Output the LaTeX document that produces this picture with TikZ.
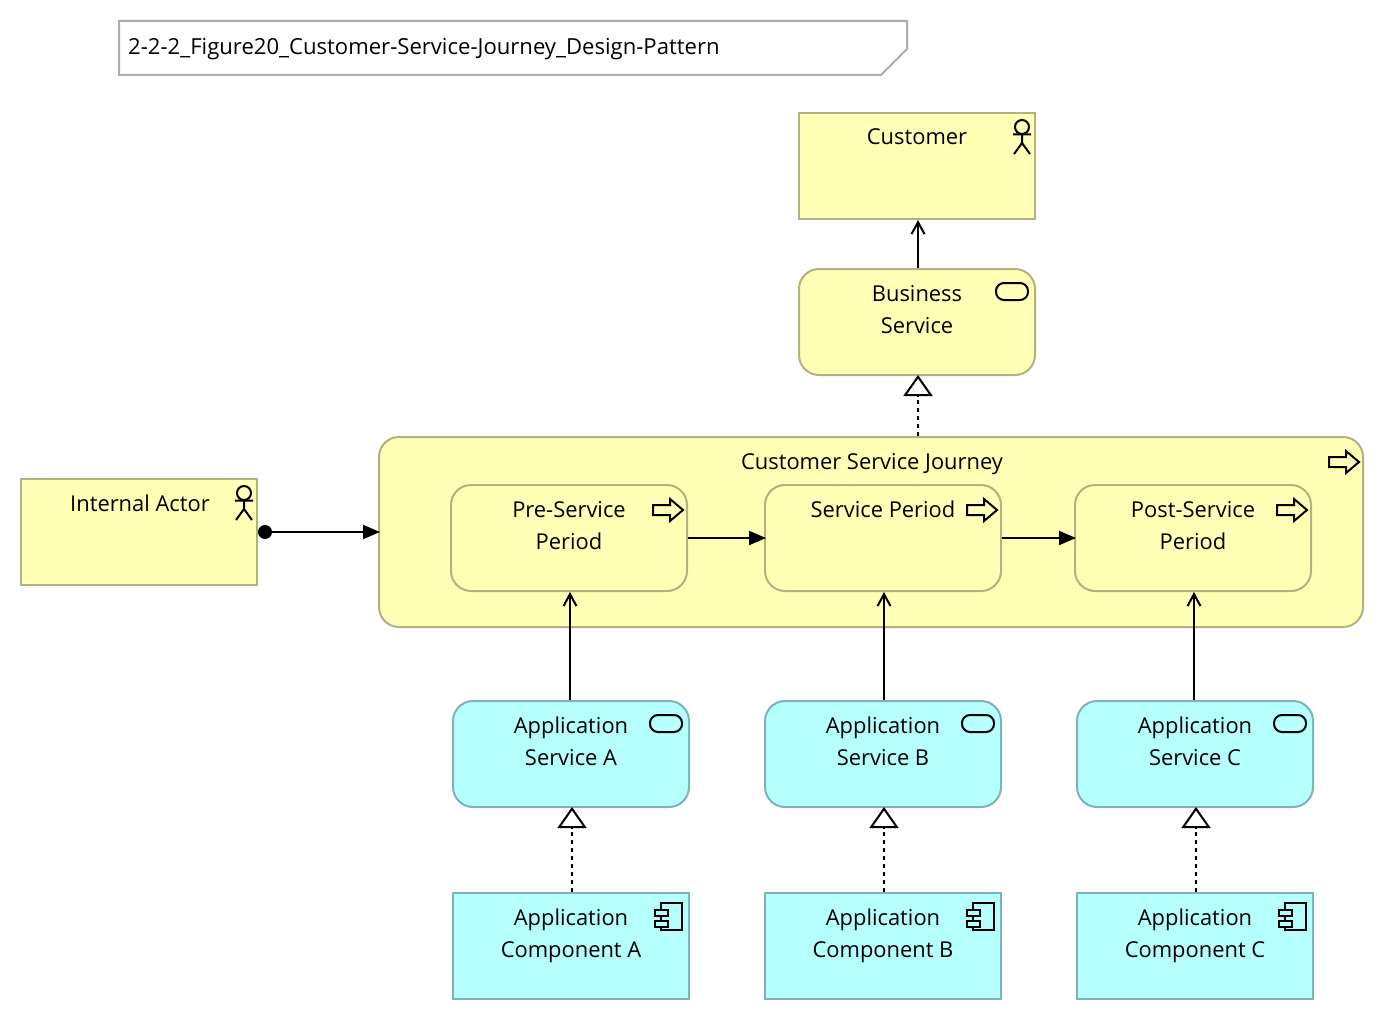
\documentclass[tikz,border=0pt]{standalone}
\usepackage{fontspec}
\setmainfont{Open Sans}
\usetikzlibrary{arrows.meta}
\definecolor{bizfill}{HTML}{FFFFB5}
\definecolor{bizline}{HTML}{B2B27F}
\definecolor{appfill}{HTML}{B5FFFF}
\definecolor{appline}{HTML}{7FB2B2}
\tikzset{
  archbox/.style={draw,line width=2pt,minimum width=236pt,minimum height=106pt,inner sep=0pt},
  bizbox/.style={archbox,draw=bizline,fill=bizfill},
  appbox/.style={archbox,draw=appline,fill=appfill},
  curved/.style={rounded corners=20pt},
  boxtext/.style={anchor=base,inner sep=0pt,align=center,font=\fontsize{21.9}{32}\selectfont},
  serving/.style={line width=2pt,-{Straight Barb[length=12pt,width=13pt,line width=2pt]}},
  triggering/.style={line width=2pt,shorten >=-2pt,-{Triangle[length=17pt,width=14pt]}},
  assignment/.style={line width=2pt,shorten >=-2pt,{Circle[length=14pt]}-{Triangle[length=17pt,width=14pt]}},
  realizing/.style={line width=2pt,shorten >=-1pt,dash pattern=on 4pt off 4pt,-{Triangle[open,fill=white,length=21pt,width=29pt,line width=2pt,sep=0pt]}},
  actoricon/.pic={
    \draw [line width=2pt] (-14,15) circle (7pt);
    \draw [line width=2pt] (-14,22) -- (-14,31) (-23,22.5) -- (-5,22.5) (-22,42) -- (-14,31) -- (-6,42);
  },
  serviceicon/.pic={
    \draw [line width=2pt,rounded corners=8pt] (-40,15) rectangle (-8,32);
  },
  processicon/.pic={
    \draw [line width=2pt,line join=miter] (-35,21) -- (-18,21) -- (-18,15) -- (-5,26) -- (-18,37) -- (-18,31) -- (-35,31) -- cycle;
  },
  componenticon/.pic={
    \draw [line width=2pt] (-29,11) rectangle (-8,38);
    \draw [line width=2pt,fill=appfill] (-35,18) rectangle (-22,24);
    \draw [line width=2pt,fill=appfill] (-35,29) rectangle (-22,35);
  },
}
\begin{document}
\begin{tikzpicture}[x=1pt,y=-1pt]
  \useasboundingbox (0,0) rectangle (1386,1022);
  % title note
  \draw [line width=2pt,draw=black!33] (119,21) -- (907,21) -- (907,49) -- (881,75) -- (119,75) -- cycle;
  \node (title) [anchor=base west,inner sep=0pt,font=\fontsize{22.1}{26}\selectfont] at (128,55) {2-2-2\_Figure20\_Customer-Service-Journey\_Design-Pattern};

  % business layer
  \node (customer) [bizbox] at (917,166) {};
  \node (customertext) [boxtext] at (917,145) {Customer};
  \pic at (customer.north east) {actoricon};
  \node (bizservice) [bizbox,curved] at (917,322) {};
  \node (bizservicetext) [boxtext] at (917,333) {Business\\Service};
  \pic at (bizservice.north east) {serviceicon};
  \node (actor) [bizbox] at (139,532) {};
  \node (actortext) [boxtext] at (140,511) {Internal Actor};
  \pic at (actor.north east) {actoricon};

  % journey and its periods
  \node (journey) [bizbox,curved,minimum width=984pt,minimum height=190pt] at (871,532) {};
  \node (journeytext) [boxtext] at (872,469) {Customer Service Journey};
  \pic at (journey.north east) {processicon};
  \node (pre) [bizbox,curved] at (569,538) {};
  \node (pretext) [boxtext] at (569,549) {Pre-Service\\Period};
  \pic at (pre.north east) {processicon};
  \node (period) [bizbox,curved] at (883,538) {};
  \node (periodtext) [boxtext] at (883,517) {Service Period};
  \pic at (period.north east) {processicon};
  \node (post) [bizbox,curved] at (1193,538) {};
  \node (posttext) [boxtext] at (1193,549) {Post-Service\\Period};
  \pic at (post.north east) {processicon};

  % application services
  \node (appserva) [appbox,curved] at (571,754) {};
  \node (appservatext) [boxtext] at (571,765) {Application\\Service A};
  \pic at (appserva.north east) {serviceicon};
  \node (appservb) [appbox,curved] at (883,754) {};
  \node (appservbtext) [boxtext] at (883,765) {Application\\Service B};
  \pic at (appservb.north east) {serviceicon};
  \node (appservc) [appbox,curved] at (1195,754) {};
  \node (appservctext) [boxtext] at (1195,765) {Application\\Service C};
  \pic at (appservc.north east) {serviceicon};

  % application components
  \node (appcompa) [appbox] at (571,946) {};
  \node (appcompatext) [boxtext] at (571,957) {Application\\Component A};
  \pic at (appcompa.north east) {componenticon};
  \node (appcompb) [appbox] at (883,946) {};
  \node (appcompbtext) [boxtext] at (883,957) {Application\\Component B};
  \pic at (appcompb.north east) {componenticon};
  \node (appcompc) [appbox] at (1195,946) {};
  \node (appcompctext) [boxtext] at (1195,957) {Application\\Component C};
  \pic at (appcompc.north east) {componenticon};

  % relations
  \draw [serving] ([xshift=1pt]bizservice.north) -- ([xshift=1pt]customer.south);
  \draw [realizing] ([xshift=1pt]bizservice.south |- journey.north) -- ([xshift=1pt]bizservice.south);
  \draw [assignment] (actor.east) -- (journey.west);
  \draw [triggering] (pre.east) -- (period.west);
  \draw [triggering] (period.east) -- (post.west);
  \draw [serving] ([xshift=-1pt]appserva.north) -- ([xshift=-1pt]appserva.north |- pre.south);
  \draw [serving] ([xshift=1pt]appservb.north) -- ([xshift=1pt]appservb.north |- period.south);
  \draw [serving] ([xshift=-1pt]appservc.north) -- ([xshift=-1pt]appservc.north |- post.south);
  \draw [realizing] ([xshift=1pt]appcompa.north) -- ([xshift=1pt]appserva.south);
  \draw [realizing] ([xshift=1pt]appcompb.north) -- ([xshift=1pt]appservb.south);
  \draw [realizing] ([xshift=1pt]appcompc.north) -- ([xshift=1pt]appservc.south);
\end{tikzpicture}
\end{document}
